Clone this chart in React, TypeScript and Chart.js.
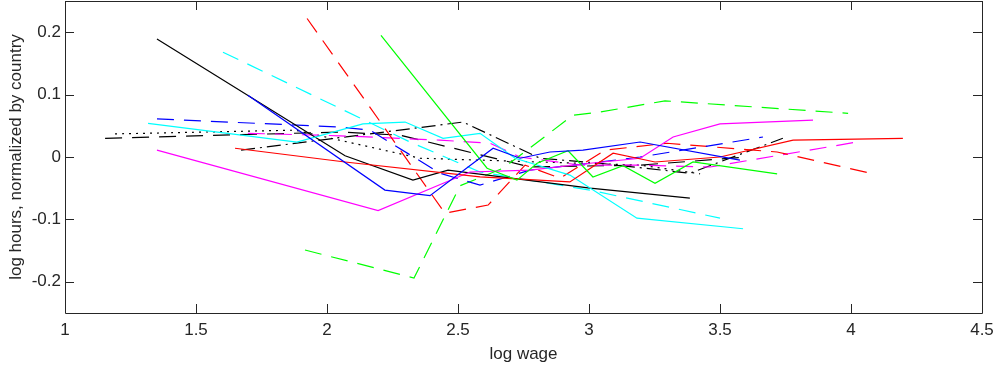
import React, { useEffect, useRef } from "react";
import { Chart, registerables } from "chart.js";

Chart.register(...registerables);

// ---- data (log wage, log hours normalized by country) ----
const blackSolidX = [1.351, 2.069, 2.328, 2.462, 3.004, 3.385];
const blackSolidY = [0.189, 0.002, -0.037, -0.021, -0.05, -0.066];

const blueSolidX = [1.698, 2.221, 2.393, 2.634, 2.737, 2.851, 2.977, 3.195, 3.576];
const blueSolidY = [0.099, -0.053, -0.062, 0.014, -0.002, 0.008, 0.011, 0.024, -0.005];

const greenSolidX = [2.206, 2.611, 2.725, 2.802, 2.92, 3.015, 3.13, 3.252, 3.397, 3.718];
const greenSolidY = [0.195, -0.018, -0.037, -0.01, 0.01, -0.032, -0.014, -0.042, -0.008, -0.027];

const redSolidX = [1.649, 2.069, 2.584, 2.927, 3.092, 3.252, 3.5, 3.779, 4.198];
const redSolidY = [0.014, -0.008, -0.032, -0.04, 0.006, -0.008, 0.0, 0.027, 0.03];

const cyanSolidX = [1.317, 1.885, 2.137, 2.298, 2.443, 2.584, 2.718, 2.927, 3.183, 3.588];
const cyanSolidY = [0.054, 0.024, 0.053, 0.056, 0.03, 0.038, -0.002, -0.029, -0.098, -0.115];

const magentaSolidX = [1.351, 2.195, 2.546, 2.775, 3.004, 3.195, 3.321, 3.5, 3.855];
const magentaSolidY = [0.011, -0.086, -0.024, -0.021, -0.01, -0.002, 0.032, 0.053, 0.059];

const blueDashedX = [1.351, 2.05, 2.164, 2.431, 2.584, 2.775, 3.004, 3.195, 3.664];
const blueDashedY = [0.061, 0.048, 0.043, -0.026, -0.045, -0.021, -0.01, 0.0, 0.032];

const greenDashedX = [1.916, 2.332, 2.508, 2.672, 2.939, 3.042, 3.29, 3.989];
const greenDashedY = [-0.149, -0.194, -0.046, -0.018, 0.067, 0.072, 0.09, 0.07];

const redDashedX = [1.924, 2.45, 2.615, 2.756, 2.889, 3.061, 3.298, 3.718, 4.084];
const redDashedY = [0.222, -0.09, -0.077, -0.013, -0.034, 0.011, 0.022, 0.008, -0.027];

const cyanDashedX = [1.603, 2.317, 2.584, 3.004, 3.5];
const cyanDashedY = [0.168, 0.024, -0.024, -0.053, -0.098];

const magentaDashedX = [1.698, 2.05, 2.431, 2.622, 2.737, 2.966, 3.195, 3.462, 4.023];
const magentaDashedY = [0.038, 0.034, 0.027, 0.022, 0.0, -0.013, -0.013, -0.016, 0.024];

const blackDashedX = [1.153, 2.05, 2.279, 2.775, 3.195, 3.607];
const blackDashedY = [0.03, 0.04, 0.035, -0.016, -0.013, 0.0];

const blackDottedX = [1.191, 1.878, 2.355, 3.195, 3.424];
const blackDottedY = [0.037, 0.043, -0.002, -0.013, -0.027];

const blackDashDotX = [1.672, 2.519, 2.813, 3.042, 3.385, 3.74];
const blackDashDotY = [0.011, 0.056, -0.002, -0.01, -0.026, 0.03];

const xTicks = [1, 1.5, 2, 2.5, 3, 3.5, 4, 4.5];
const yTicks = [-0.2, -0.1, 0, 0.1, 0.2];

const DASH = [17, 10];
const DOT = [2, 5];
const DASHDOT = [14, 5, 2, 5];

const seriesList = [
  { x: blueSolidX, y: blueSolidY, color: "#0000ff", dash: [] as number[] },
  { x: greenSolidX, y: greenSolidY, color: "#00ff00", dash: [] as number[] },
  { x: redSolidX, y: redSolidY, color: "#ff0000", dash: [] as number[] },
  { x: cyanSolidX, y: cyanSolidY, color: "#00ffff", dash: [] as number[] },
  { x: magentaSolidX, y: magentaSolidY, color: "#ff00ff", dash: [] as number[] },
  { x: blackSolidX, y: blackSolidY, color: "#000000", dash: [] as number[] },
  { x: blueDashedX, y: blueDashedY, color: "#0000ff", dash: DASH },
  { x: greenDashedX, y: greenDashedY, color: "#00ff00", dash: DASH },
  { x: redDashedX, y: redDashedY, color: "#ff0000", dash: DASH },
  { x: cyanDashedX, y: cyanDashedY, color: "#00ffff", dash: DASH },
  { x: magentaDashedX, y: magentaDashedY, color: "#ff00ff", dash: DASH },
  { x: blackDashedX, y: blackDashedY, color: "#000000", dash: DASH },
  { x: blackDottedX, y: blackDottedY, color: "#000000", dash: DOT },
  { x: blackDashDotX, y: blackDashDotY, color: "#000000", dash: DASHDOT },
];

const AXIS_COLOR = "#262626";
const FONT = { family: "'Liberation Sans', Arial, Helvetica, sans-serif", size: 17 };

const boxPlugin = {
  id: "matlabBox",
  afterDatasetsDraw(chart: any) {
    const { ctx, chartArea, scales } = chart;
    const { left, right, top, bottom } = chartArea;
    const L = 9;
    ctx.save();
    ctx.strokeStyle = AXIS_COLOR;
    ctx.lineWidth = 1;
    ctx.beginPath();
    ctx.rect(Math.round(left) + 0.5, Math.round(top) + 0.5, Math.round(right - left), Math.round(bottom - top));
    for (const v of xTicks) {
      const px = Math.round(scales.x.getPixelForValue(v)) + 0.5;
      ctx.moveTo(px, bottom);
      ctx.lineTo(px, bottom - L);
      ctx.moveTo(px, top);
      ctx.lineTo(px, top + L);
    }
    for (const v of yTicks) {
      const py = Math.round(scales.y.getPixelForValue(v)) + 0.5;
      ctx.moveTo(left, py);
      ctx.lineTo(left + L, py);
      ctx.moveTo(right, py);
      ctx.lineTo(right - L, py);
    }
    ctx.stroke();
    ctx.restore();
  },
};

function zeroPadding(axis: any) {
  axis.paddingTop = 0;
  axis.paddingBottom = 0;
  axis.paddingLeft = 0;
  axis.paddingRight = 0;
}

export default function App() {
  const ref = useRef<HTMLCanvasElement | null>(null);

  useEffect(() => {
    if (!ref.current) return;
    const datasets = seriesList.map((s) => ({
      data: s.x.map((xv, i) => ({ x: xv, y: s.y[i] })),
      borderColor: s.color,
      backgroundColor: s.color,
      borderWidth: 1.2,
      borderDash: s.dash,
      pointRadius: 0,
      tension: 0,
      fill: false,
    }));
    const chart = new Chart(ref.current, {
      type: "line",
      data: { datasets },
      plugins: [boxPlugin],
      options: {
        animation: false,
        responsive: true,
        maintainAspectRatio: false,
        layout: { padding: { top: 1, right: 16, left: 0, bottom: 0 } },
        plugins: { legend: { display: false }, tooltip: { enabled: false } },
        scales: {
          x: {
            type: "linear",
            min: 1,
            max: 4.5,
            grid: { display: false, drawTicks: false },
            border: { display: false },
            afterBuildTicks: (axis: any) => {
              axis.ticks = xTicks.map((v) => ({ value: v }));
            },
            afterFit: (axis: any) => {
              axis.height = 63;
              zeroPadding(axis);
            },
            ticks: {
              color: AXIS_COLOR,
              font: FONT,
              padding: 7,
              maxRotation: 0,
              autoSkip: false,
              callback: (v: any) => String(Math.round(Number(v) * 10) / 10),
            },
            title: {
              display: true,
              text: "log wage",
              color: AXIS_COLOR,
              font: FONT,
              padding: { top: 0, bottom: 11 },
            },
          },
          y: {
            type: "linear",
            min: -0.25,
            max: 0.25,
            grid: { display: false, drawTicks: false },
            border: { display: false },
            afterBuildTicks: (axis: any) => {
              axis.ticks = yTicks.map((v) => ({ value: v }));
            },
            afterFit: (axis: any) => {
              axis.width = 65;
              zeroPadding(axis);
            },
            ticks: {
              color: AXIS_COLOR,
              font: FONT,
              padding: 4,
              autoSkip: false,
              callback: (v: any) => String(Math.round(Number(v) * 10) / 10),
            },
            title: {
              display: true,
              text: "log hours, normalized by country",
              color: AXIS_COLOR,
              font: FONT,
              padding: { top: 6, bottom: 0 },
            },
          },
        },
      },
    } as any);
    return () => chart.destroy();
  }, []);

  return (
    <div style={{ position: "fixed", left: 0, top: 0, width: 998, height: 376, background: "#fff" }}>
      <canvas ref={ref} />
    </div>
  );
}
